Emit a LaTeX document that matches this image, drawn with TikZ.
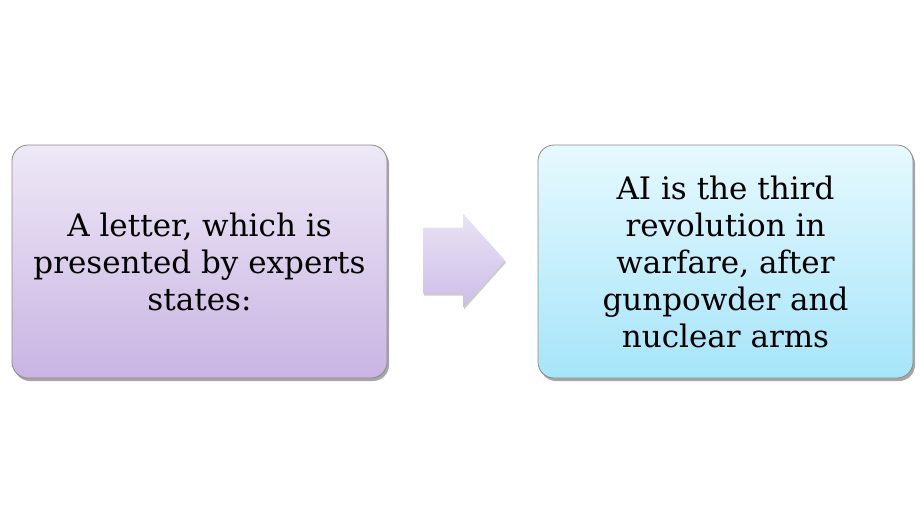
\documentclass[tikz,border=0pt]{standalone}
\usepackage{fontspec}
\setmainfont{DejaVu Serif}
\usetikzlibrary{shadows}
\definecolor{ltop}{HTML}{EEE8F6}
\definecolor{lbot}{HTML}{C9B4E3}
\definecolor{rtop}{HTML}{E6F9FE}
\definecolor{rbot}{HTML}{A6E5F9}
\definecolor{atop}{HTML}{EAE3F4}
\definecolor{abot}{HTML}{CDBDE8}
\definecolor{edge}{HTML}{8A8A8A}
\tikzset{
  card/.style={draw=edge, line width=0.8pt, rounded corners=16pt,
    minimum width=375pt, minimum height=233pt, align=center,
    font=\fontsize{31}{37}\selectfont,
    drop shadow={shadow xshift=2pt, shadow yshift=-3pt, opacity=0.35, fill=black}},
}
\begin{document}
\begin{tikzpicture}[x=1pt,y=-1pt]
\useasboundingbox (0,0) rectangle (920,525);
\node[card, top color=ltop, bottom color=lbot] (letter) at (199.5,261.5)
  {A letter, which is\\presented by experts\\states:};
\node[card, top color=rtop, bottom color=rbot] (claim) at (725.5,261.5)
  {AI is the third\\revolution in\\warfare, after\\gunpowder and\\nuclear arms};
\coordinate (arrowstart) at (423,260.5);
\path[top color=atop, bottom color=abot, drop shadow={shadow xshift=1pt, shadow yshift=-2pt, opacity=0.2, fill=black}]
  (arrowstart) ++(0,-33) -- ++(40,0) -- ++(0,-14) -- (505,260.5) -- ++(-42,47) -- ++(0,-14) -- ++(-40,0) -- cycle;
\end{tikzpicture}
\end{document}
